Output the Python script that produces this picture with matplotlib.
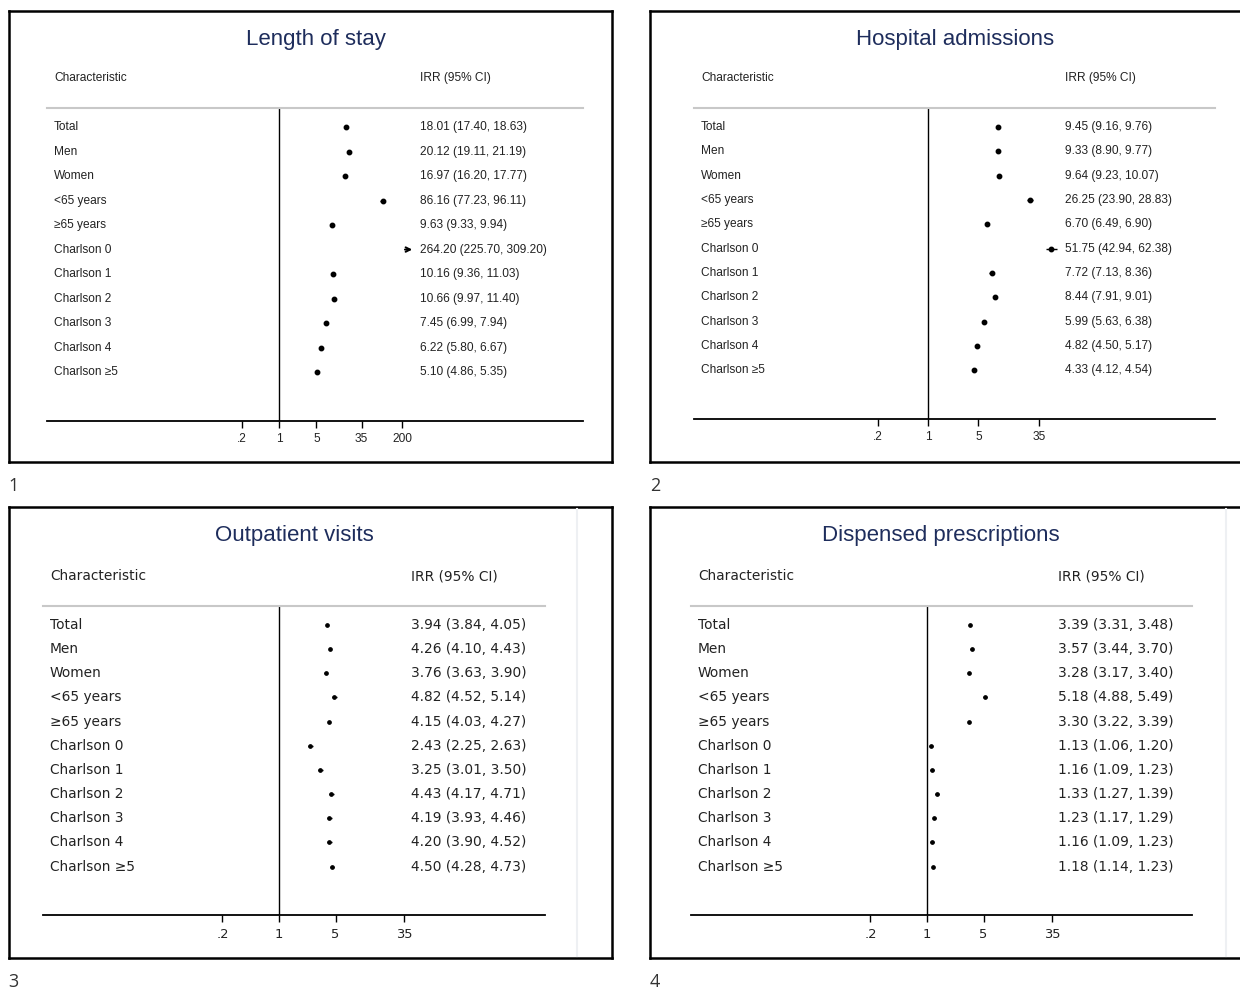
import numpy as np
import matplotlib.pyplot as plt
from matplotlib.transforms import blended_transform_factory

labels = ['Total', 'Men', 'Women', '<65 years', '≥65 years', 'Charlson 0',
          'Charlson 1', 'Charlson 2', 'Charlson 3', 'Charlson 4', 'Charlson ≥5']

los_irr = [18.01, 20.12, 16.97, 86.16, 9.63, 264.20, 10.16, 10.66, 7.45, 6.22, 5.10]
los_lo = [17.40, 19.11, 16.20, 77.23, 9.33, 225.70, 9.36, 9.97, 6.99, 5.80, 4.86]
los_hi = [18.63, 21.19, 17.77, 96.11, 9.94, 309.20, 11.03, 11.40, 7.94, 6.67, 5.35]

adm_irr = [9.45, 9.33, 9.64, 26.25, 6.70, 51.75, 7.72, 8.44, 5.99, 4.82, 4.33]
adm_lo = [9.16, 8.90, 9.23, 23.90, 6.49, 42.94, 7.13, 7.91, 5.63, 4.50, 4.12]
adm_hi = [9.76, 9.77, 10.07, 28.83, 6.90, 62.38, 8.36, 9.01, 6.38, 5.17, 4.54]

out_irr = [3.94, 4.26, 3.76, 4.82, 4.15, 2.43, 3.25, 4.43, 4.19, 4.20, 4.50]
out_lo = [3.84, 4.10, 3.63, 4.52, 4.03, 2.25, 3.01, 4.17, 3.93, 3.90, 4.28]
out_hi = [4.05, 4.43, 3.90, 5.14, 4.27, 2.63, 3.50, 4.71, 4.46, 4.52, 4.73]

rx_irr = [3.39, 3.57, 3.28, 5.18, 3.30, 1.13, 1.16, 1.33, 1.23, 1.16, 1.18]
rx_lo = [3.31, 3.44, 3.17, 4.88, 3.22, 1.06, 1.09, 1.27, 1.17, 1.09, 1.14]
rx_hi = [3.48, 3.70, 3.40, 5.49, 3.39, 1.20, 1.23, 1.39, 1.29, 1.23, 1.23]

ticks_los = [0.2, 1, 5, 35, 200]
ticklabels_los = ['.2', '1', '5', '35', '200']
ticks_std = [0.2, 1, 5, 35]
ticklabels_std = ['.2', '1', '5', '35']

W, H = 1240, 991
fig = plt.figure(figsize=(W / 100, H / 100), dpi=100)
navy = '#1e2d5c'


def fx(px):
    return px / W


def fy(py):
    return 1 - py / H


def panel(box, title_x, left, right, vline, ppd, top, bottom, title, irr, lo, hi,
          ticks, ticklabels, family, fs, tfs, ms, pad, label_x, value_x,
          arrow_row=None, ghost=None):
    x0, y0, x1, y1 = box
    frame = fig.add_axes([fx(x0), fy(y1), (x1 - x0) / W, (y1 - y0) / H])
    frame.set_xticks([])
    frame.set_yticks([])
    for s in frame.spines.values():
        s.set_linewidth(1.8)
        s.set_color('black')
    if ghost is not None:
        fig.add_artist(plt.Line2D([fx(ghost), fx(ghost)], [fy(y0 + 2), fy(y1 - 2)],
                                  color='#eef0f3', lw=1.5))

    fig.text(fx(title_x), fy(y0 + 28), title, ha='center', va='center',
             fontsize=16, color=navy, family='Liberation Sans')

    ax = fig.add_axes([fx(left), fy(bottom), (right - left) / W, (bottom - top) / H])
    ax.patch.set_alpha(0)
    ax.set_xscale('log')
    ax.set_xlim(10 ** (-(vline - left) / ppd), 10 ** ((right - vline) / ppd))
    ax.set_ylim(12.0, -0.78)
    ax.set_yticks([])
    ax.minorticks_off()
    ax.set_xticks(ticks)
    ax.set_xticklabels(ticklabels, family=family, fontsize=tfs, color='#222222')
    ax.tick_params(axis='x', which='both', direction='out', length=5, width=1, pad=pad)
    for s in ['left', 'right']:
        ax.spines[s].set_visible(False)
    ax.spines['top'].set_color('#c8c8c8')
    ax.spines['top'].set_linewidth(1.5)
    ax.spines['bottom'].set_linewidth(1.3)
    ax.axvline(1, color='black', lw=1)

    rows = np.arange(len(labels))
    for i in rows:
        if i == arrow_row:
            ax.annotate('', xy=(hi[i], i), xytext=(lo[i], i),
                        arrowprops=dict(arrowstyle='->', lw=1.4, color='black',
                                        mutation_scale=8, shrinkA=0, shrinkB=0))
        else:
            ax.hlines(i, lo[i], hi[i], color='black', lw=1)
            ax.plot(irr[i], i, 'o', color='black', ms=ms)

    tr = blended_transform_factory(fig.transFigure, ax.transData)
    for i in rows:
        ax.text(fx(label_x), i, labels[i], transform=tr, ha='left', va='center',
                fontsize=fs, family=family, color='#222222')
        ax.text(fx(value_x), i, '%.2f (%.2f, %.2f)' % (irr[i], lo[i], hi[i]), transform=tr,
                ha='left', va='center', fontsize=fs, family=family, color='#222222')

    fig.text(fx(label_x), fy(top - 30), 'Characteristic', ha='left', va='center',
             fontsize=fs, family=family, color='#222222')
    fig.text(fx(value_x), fy(top - 30), 'IRR (95% CI)', ha='left', va='center',
             fontsize=fs, family=family, color='#222222')
    return ax


panel((9, 11, 612, 462), 316, 47, 583, 279, 53.5, 108, 421, 'Length of stay',
      los_irr, los_lo, los_hi, ticks_los, ticklabels_los, 'Liberation Sans', 8.6, 8.6,
      3.2, 3.5, 54, 420, arrow_row=5)
panel((650, 11, 1260, 462), 955, 694, 1215, 928, 72, 108, 419, 'Hospital admissions',
      adm_irr, adm_lo, adm_hi, ticks_std, ticklabels_std, 'Liberation Sans', 8.6, 8.6,
      3.2, 3.5, 701, 1065)
panel((9, 507, 612, 958), 294, 43, 545, 279, 81, 606, 915, 'Outpatient visits',
      out_irr, out_lo, out_hi, ticks_std, ticklabels_std, 'DejaVu Sans', 9.9, 9.4,
      2.4, 4.5, 50, 411, ghost=577)
panel((650, 507, 1260, 958), 941, 691, 1192, 927, 81, 606, 915, 'Dispensed prescriptions',
      rx_irr, rx_lo, rx_hi, ticks_std, ticklabels_std, 'DejaVu Sans', 9.9, 9.4,
      2.4, 4.5, 698, 1058, ghost=1226)

for num, (px, py) in zip(['1', '2', '3', '4'], [(8, 486), (650, 486), (8, 982), (650, 982)]):
    fig.text(fx(px), fy(py), num, ha='left', va='center', fontsize=13,
             family='Open Sans', color='#333333')

fig.savefig('out.png', dpi=100)
